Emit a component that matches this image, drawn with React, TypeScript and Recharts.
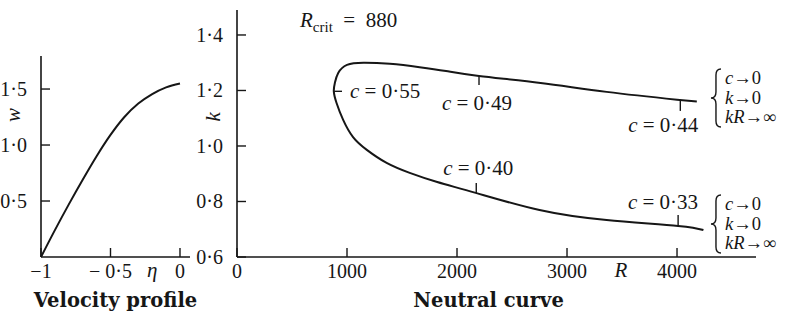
import { LineChart, Line, XAxis, YAxis, ReferenceDot } from "recharts";

const INK = "#161616";
const SERIF = "'Liberation Serif', 'Times New Roman', serif";
const CAPTION_FONT = "'DejaVu Serif', serif";

// Velocity profile w(eta)
const ETA = [-1, -0.9, -0.8, -0.7, -0.6, -0.5, -0.4, -0.3, -0.2, -0.1, 0];
const W = [0, 0.24, 0.47, 0.69, 0.9, 1.09, 1.25, 1.37, 1.455, 1.515, 1.55];
const ETA_TICKS = [-1, -0.5, 0];
const ETA_TICK_LABELS = ["−1", "− 0·5", "0"];
const W_TICKS = [0.5, 1, 1.5];
const W_TICK_LABELS = ["0·5", "1·0", "1·5"];

// Neutral curve, traced from the end of the upper branch round the nose
// (R ~ 880) and out along the lower branch.
const NEUTRAL_R = [
  4180, 4000, 3360, 2760, 2200, 1900, 1660, 1390, 1150, 1000, 920, 890, 880,
  905, 965, 1055, 1180, 1360, 1570, 1820, 2170, 2750, 3360, 4010, 4240,
];
const NEUTRAL_K = [
  1.16, 1.167, 1.195, 1.227, 1.252, 1.27, 1.284, 1.296, 1.3, 1.292, 1.263,
  1.228, 1.197, 1.155, 1.094, 1.032, 0.986, 0.939, 0.903, 0.87, 0.831, 0.769,
  0.733, 0.712, 0.697,
];
const R_TICKS = [0, 1000, 2000, 3000, 4000];
const R_TICK_LABELS = ["0", "1000", "2000", "3000", "4000"];
const K_TICKS = [0.6, 0.8, 1.0, 1.2, 1.4];
const K_TICK_LABELS = ["0·6", "0·8", "1·0", "1·2", "1·4"];

// wave speed marks along the curve
const C_LABELS = ["0·55", "0·49", "0·44", "0·40", "0·33"];
const C_R = [882, 2200, 4030, 2175, 4010];
const C_K = [1.197, 1.252, 1.166, 0.831, 0.712];

const R_CRIT = 880;
const BRACE_R = [4345, 4345];
const BRACE_K = [1.173, 0.719];

// pixel offsets of each c-mark's tick and label from its anchor on the curve
const C_LAYOUT = [
  { tx: 8, ty: 0, lx: 16, ly: 0, anchor: "start" },
  { tx: 0, ty: 9, lx: -2, ly: 27, anchor: "middle" },
  { tx: 0, ty: 11, lx: 18, ly: 25, anchor: "end" },
  { tx: 0, ty: -10, lx: 2, ly: -25, anchor: "middle" },
  { tx: 0, ty: -11, lx: 20, ly: -24, anchor: "end" },
];

const profileData = ETA.map((eta, i) => ({ eta, w: W[i] }));
const neutralData = NEUTRAL_R.map((R, i) => ({ R, k: NEUTRAL_K[i] }));

const TEXT_STYLE = { fontFamily: SERIF, fontSize: 20, fill: INK };

// ticks drawn inward, labels outside
function makeYTick(labels: string[]) {
  return (props: any) => {
    const { x, y, index } = props;
    return (
      <g>
        <line x1={x} y1={y} x2={x + 9} y2={y} stroke={INK} strokeWidth={1.4} />
        <text
          x={x - 14}
          y={y}
          textAnchor="end"
          dominantBaseline="central"
          style={TEXT_STYLE}
        >
          {labels[index]}
        </text>
      </g>
    );
  };
}

function makeXTick(labels: string[]) {
  return (props: any) => {
    const { x, y, index } = props;
    return (
      <g>
        <line x1={x} y1={y} x2={x} y2={y - 9} stroke={INK} strokeWidth={1.4} />
        <text x={x} y={y + 21} textAnchor="middle" style={TEXT_STYLE}>
          {labels[index]}
        </text>
      </g>
    );
  };
}

function AxisName({ cx, cy, text, rotate, dy = 0 }: any) {
  return (
    <text
      x={cx}
      y={cy + dy}
      textAnchor="middle"
      dominantBaseline={rotate ? "central" : undefined}
      transform={rotate ? `rotate(-90 ${cx} ${cy})` : undefined}
      style={{ ...TEXT_STYLE, fontSize: 21, fontStyle: "italic" }}
    >
      {text}
    </text>
  );
}

function CMark({ cx, cy, i }: any) {
  const l = C_LAYOUT[i];
  return (
    <g>
      <line x1={cx} y1={cy} x2={cx + l.tx} y2={cy + l.ty} stroke={INK} strokeWidth={1.4} />
      <text
        x={cx + l.lx}
        y={cy + l.ly}
        textAnchor={l.anchor}
        dominantBaseline="central"
        style={{ ...TEXT_STYLE, fontSize: 21 }}
        xmlSpace="preserve"
      >
        <tspan style={{ fontStyle: "italic" }}>c</tspan>
        {" = "}
        {C_LABELS[i]}
      </text>
    </g>
  );
}

function Brace({ cx, cy }: any) {
  const t = cy - 29;
  const b = cy + 29;
  const x = cx;
  const d = `M ${x + 6} ${t} Q ${x + 1} ${t} ${x + 1} ${t + 6} L ${x + 1} ${cy - 6} Q ${x + 1} ${cy} ${x - 4} ${cy} Q ${x + 1} ${cy} ${x + 1} ${cy + 6} L ${x + 1} ${b - 6} Q ${x + 1} ${b} ${x + 6} ${b}`;
  const rows = [
    ["c", "→0"],
    ["k", "→0"],
    ["kR", "→∞"],
  ];
  return (
    <g>
      <path d={d} fill="none" stroke={INK} strokeWidth={1.4} />
      {rows.map((r, j) => (
        <text
          key={j}
          x={x + 10}
          y={cy + (j - 1) * 19.5}
          dominantBaseline="central"
          style={{ ...TEXT_STYLE, fontSize: 18.5 }}
        >
          <tspan style={{ fontStyle: "italic" }}>{r[0]}</tspan>
          {r[1]}
        </text>
      ))}
    </g>
  );
}

function RCrit({ cx, cy }: any) {
  return (
    <text x={cx} y={cy} style={{ ...TEXT_STYLE, fontSize: 21 }} xmlSpace="preserve">
      <tspan style={{ fontStyle: "italic" }}>R</tspan>
      <tspan style={{ fontSize: 15 }} dy={5}>
        crit
      </tspan>
      <tspan dy={-5}>{`\u2002=\u2002${R_CRIT}`}</tspan>
    </text>
  );
}

const AXIS_LINE = { stroke: INK, strokeWidth: 1.6 };
const CAPTION = {
  position: "insideBottom" as const,
  offset: 14,
  fill: INK,
  fontFamily: CAPTION_FONT,
  fontSize: 19.5,
  fontWeight: "bold",
};

export default function App() {
  return (
    <div
      style={{
        position: "absolute",
        left: 0,
        top: 0,
        width: 790,
        height: 321,
        background: "#fff",
        fontFamily: SERIF,
      }}
    >
      <div style={{ position: "absolute", left: 0, top: 0 }}>
        <LineChart
          width={200}
          height={321}
          data={profileData}
          margin={{ top: 56, right: 10, bottom: 0, left: 0 }}
        >
          <XAxis
            dataKey="eta"
            type="number"
            domain={[-1, 0.072]}
            ticks={ETA_TICKS}
            height={64}
            axisLine={AXIS_LINE}
            tickLine={false}
            tickSize={0}
            tickMargin={0}
            tick={makeXTick(ETA_TICK_LABELS)}
            label={{ ...CAPTION, value: "Velocity profile" }}
          />
          <YAxis
            type="number"
            domain={[0, 1.795]}
            ticks={W_TICKS}
            width={41}
            axisLine={AXIS_LINE}
            tickLine={false}
            tickSize={0}
            tickMargin={0}
            tick={makeYTick(W_TICK_LABELS)}
          />
          <Line
            dataKey="w"
            type="monotone"
            stroke={INK}
            strokeWidth={2}
            dot={false}
            isAnimationActive={false}
          />
          <ReferenceDot
            x={-1.2}
            y={1.268}
            r={0}
            ifOverflow="visible"
            shape={(p: any) => <AxisName {...p} text="w" rotate />}
          />
          <ReferenceDot
            x={-0.2}
            y={0}
            r={0}
            ifOverflow="visible"
            shape={(p: any) => <AxisName {...p} text="η" dy={20} />}
          />
        </LineChart>
      </div>
      <div style={{ position: "absolute", left: 180, top: 0 }}>
        <LineChart
          width={610}
          height={321}
          data={neutralData}
          margin={{ top: 10, right: 34, bottom: 0, left: 0 }}
        >
          <XAxis
            dataKey="R"
            type="number"
            domain={[0, 4718]}
            ticks={R_TICKS}
            height={64}
            axisLine={AXIS_LINE}
            tickLine={false}
            tickSize={0}
            tickMargin={0}
            tick={makeXTick(R_TICK_LABELS)}
            label={{ ...CAPTION, value: "Neutral curve", dx: -8 }}
          />
          <YAxis
            type="number"
            domain={[0.6, 1.49]}
            ticks={K_TICKS}
            width={57}
            axisLine={AXIS_LINE}
            tickLine={false}
            tickSize={0}
            tickMargin={0}
            tick={makeYTick(K_TICK_LABELS)}
          />
          <Line
            dataKey="k"
            type="natural"
            stroke={INK}
            strokeWidth={2}
            dot={false}
            isAnimationActive={false}
          />
          {C_LABELS.map((_, i) => (
            <ReferenceDot
              key={i}
              x={C_R[i]}
              y={C_K[i]}
              r={0}
              ifOverflow="visible"
              shape={(p: any) => <CMark {...p} i={i} />}
            />
          ))}
          {BRACE_R.map((R, i) => (
            <ReferenceDot
              key={`b${i}`}
              x={R}
              y={BRACE_K[i]}
              r={0}
              ifOverflow="visible"
              shape={(p: any) => <Brace {...p} />}
            />
          ))}
          <ReferenceDot
            x={573}
            y={1.429}
            r={0}
            ifOverflow="visible"
            shape={(p: any) => <RCrit {...p} />}
          />
          <ReferenceDot
            x={-218}
            y={1.105}
            r={0}
            ifOverflow="visible"
            shape={(p: any) => <AxisName {...p} text="k" rotate />}
          />
          <ReferenceDot
            x={3490}
            y={0.6}
            r={0}
            ifOverflow="visible"
            shape={(p: any) => <AxisName {...p} text="R" dy={20} />}
          />
        </LineChart>
      </div>
    </div>
  );
}
